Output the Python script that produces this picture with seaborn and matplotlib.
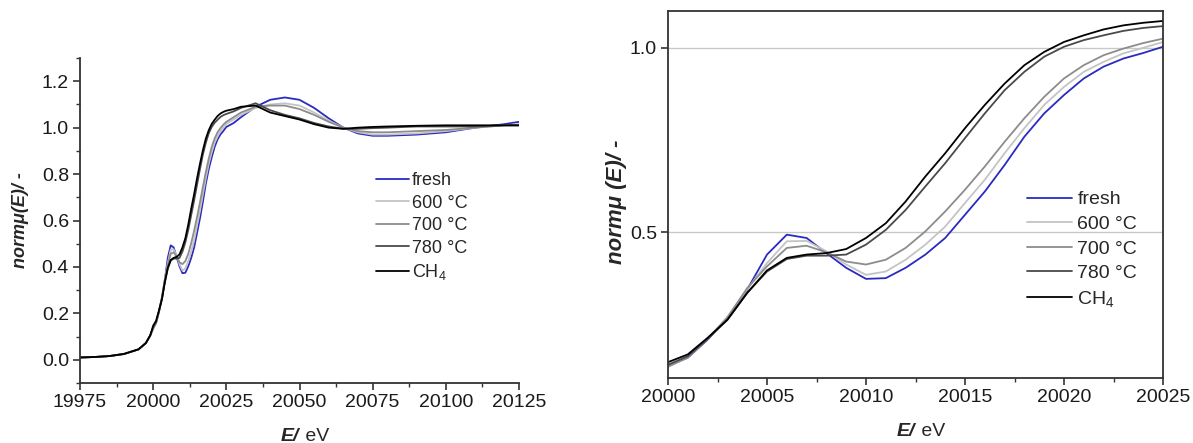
import numpy as np
import pandas as pd
import matplotlib
matplotlib.use("Agg")
import matplotlib.pyplot as plt
from matplotlib.ticker import MultipleLocator, FormatStrFormatter
import seaborn as sns

# ---------------- data ----------------
energy = [19975, 19980, 19985, 19990, 19995, 19997.5, 19999,
          20000, 20001, 20002, 20003, 20004, 20005, 20006, 20007, 20008, 20009,
          20010, 20011, 20012, 20013, 20014, 20015, 20016, 20017, 20018, 20019,
          20020, 20021, 20022, 20023, 20024, 20025,
          20027.5, 20030, 20035, 20040, 20045, 20050, 20055, 20060, 20065,
          20070, 20075, 20080, 20090, 20100, 20110, 20120, 20125]

pre_edge = [0.010, 0.012, 0.016, 0.025, 0.045, 0.072, 0.105]

fresh = pre_edge + [0.136, 0.159, 0.208, 0.267, 0.344, 0.439, 0.493, 0.484, 0.443, 0.403,
                    0.373, 0.375, 0.403, 0.439, 0.484, 0.547, 0.610, 0.682, 0.759, 0.822,
                    0.872, 0.917, 0.949, 0.971, 0.986, 1.003,
                    1.020, 1.045, 1.090, 1.120, 1.130, 1.120, 1.085, 1.040, 1.000,
                    0.975, 0.965, 0.965, 0.970, 0.980, 1.000, 1.015, 1.025]
t600 = pre_edge + [0.134, 0.160, 0.210, 0.270, 0.345, 0.416, 0.475, 0.476, 0.448, 0.412,
                   0.384, 0.393, 0.425, 0.466, 0.515, 0.579, 0.642, 0.714, 0.782, 0.845,
                   0.894, 0.935, 0.962, 0.985, 1.000, 1.016,
                   1.035, 1.055, 1.085, 1.100, 1.105, 1.095, 1.065, 1.030, 1.000,
                   0.980, 0.970, 0.970, 0.975, 0.985, 1.000, 1.010, 1.015]
t700 = pre_edge + [0.135, 0.160, 0.210, 0.268, 0.348, 0.407, 0.457, 0.463, 0.445, 0.420,
                   0.412, 0.425, 0.457, 0.502, 0.556, 0.615, 0.678, 0.745, 0.809, 0.867,
                   0.917, 0.953, 0.980, 0.998, 1.013, 1.025,
                   1.045, 1.065, 1.090, 1.095, 1.095, 1.080, 1.055, 1.025, 1.000,
                   0.985, 0.980, 0.980, 0.985, 0.990, 1.000, 1.010, 1.010]
t780 = pre_edge + [0.140, 0.163, 0.210, 0.262, 0.335, 0.393, 0.427, 0.436, 0.436, 0.439,
                   0.466, 0.506, 0.560, 0.624, 0.687, 0.755, 0.822, 0.885, 0.935, 0.976,
                   1.003, 1.021, 1.034, 1.046, 1.054, 1.059,
                   1.070, 1.085, 1.105, 1.075, 1.055, 1.040, 1.020, 1.005, 0.995,
                   0.995, 0.998, 1.000, 1.005, 1.005, 1.005, 1.010, 1.010]
ch4 = pre_edge + [0.147, 0.168, 0.213, 0.262, 0.335, 0.396, 0.430, 0.439, 0.443, 0.454,
                  0.484, 0.524, 0.583, 0.651, 0.714, 0.782, 0.845, 0.903, 0.953, 0.989,
                  1.016, 1.034, 1.050, 1.061, 1.068, 1.073,
                  1.080, 1.090, 1.095, 1.065, 1.050, 1.035, 1.015, 1.000, 0.995,
                  1.000, 1.003, 1.005, 1.008, 1.010, 1.010, 1.010, 1.010]

series_names = ["fresh", "600 °C", "700 °C", "780 °C", "CH$_4$"]
series_values = [fresh, t600, t700, t780, ch4]
colors = ["#2a2ac0", "#c4c4c4", "#8c8c8c", "#4a4a4a", "#000000"]

rows = []
for name, vals in zip(series_names, series_values):
    for e, v in zip(energy, vals):
        rows.append({"E": e, "mu": v, "sample": name})
df = pd.DataFrame(rows)

# ---------------- style ----------------
sns.set_style("ticks")
plt.rcParams["font.family"] = ["Liberation Sans", "DejaVu Sans"]
plt.rcParams["mathtext.fontset"] = "custom"
plt.rcParams["mathtext.rm"] = "Liberation Sans"
plt.rcParams["mathtext.it"] = "Liberation Sans:italic"
plt.rcParams["mathtext.bf"] = "Liberation Sans:bold"
tick_col = "#333333"

fig = plt.figure(figsize=(11.93, 4.43), dpi=100)
ax1 = fig.add_axes([80/1193, 60/443, 439/1193, 325/443])
ax2 = fig.add_axes([668/1193, 65/443, 495/1193, 367/443])

palette = dict(zip(series_names, colors))

for ax in (ax1, ax2):
    sns.lineplot(data=df, x="E", y="mu", hue="sample", hue_order=series_names,
                 palette=palette, ax=ax, linewidth=1.3, legend=False, sort=False)

# left panel
ax1.set_xlim(19975, 20125)
ax1.set_ylim(-0.1, 1.3)
ax1.xaxis.set_major_locator(MultipleLocator(25))
ax1.xaxis.set_minor_locator(MultipleLocator(12.5))
ax1.yaxis.set_major_locator(MultipleLocator(0.2))
ax1.yaxis.set_minor_locator(MultipleLocator(0.1))
ax1.yaxis.set_major_formatter(FormatStrFormatter("%.1f"))
ax1.spines["top"].set_visible(False)
ax1.spines["right"].set_visible(False)

# right panel
ax2.set_xlim(20000, 20025)
ax2.set_ylim(0.104, 1.10)
ax2.xaxis.set_major_locator(MultipleLocator(5))
ax2.xaxis.set_minor_locator(MultipleLocator(2.5))
ax2.yaxis.set_major_locator(MultipleLocator(0.5))
ax2.yaxis.set_major_formatter(FormatStrFormatter("%.1f"))
for yv in (0.5, 1.0):
    ax2.axhline(yv, color="#c8c8c8", linewidth=1.0, zorder=0)

for ax in (ax1, ax2):
    ax.set_xlabel("")
    ax.set_ylabel("")
    for s in ax.spines.values():
        s.set_color(tick_col)
        s.set_linewidth(1.3)
    ax.tick_params(which="major", direction="out", length=5, width=1.2,
                   color=tick_col, labelsize=14, labelcolor="#1a1a1a", pad=3)
    ax.tick_params(which="minor", direction="out", length=3, width=1.0, color=tick_col)
    yl = -0.165 if ax is ax1 else -0.145
    ax.text(0.5, yl, "E/", transform=ax.transAxes,
            ha="right", va="center", fontsize=14, fontweight="bold", style="italic")
    ax.text(0.5, yl, " eV", transform=ax.transAxes,
            ha="left", va="center", fontsize=14)

ax1.set_ylabel("normμ(E)/ -", fontsize=13, fontweight="bold", style="italic", labelpad=9)
ax2.set_ylabel("normμ (E)/ -", fontsize=16, fontweight="bold", style="italic", labelpad=2)
ax2.yaxis.set_label_coords(-0.083, 0.48)

# legends
h1 = ax1.get_lines()[:5]
ax1.legend(h1, series_names, loc="upper left", bbox_to_anchor=(0.675, 0.648),
           frameon=False, fontsize=13, handlelength=1.8, handletextpad=0.15,
           labelspacing=0.3, borderpad=0, borderaxespad=0)
h2 = ax2.get_lines()[:5]
ax2.legend(h2, series_names, loc="upper left", bbox_to_anchor=(0.725, 0.51),
           frameon=False, fontsize=14, handlelength=2.3, handletextpad=0.3,
           labelspacing=0.36, borderpad=0, borderaxespad=0)

fig.savefig("out.png", dpi=100)
